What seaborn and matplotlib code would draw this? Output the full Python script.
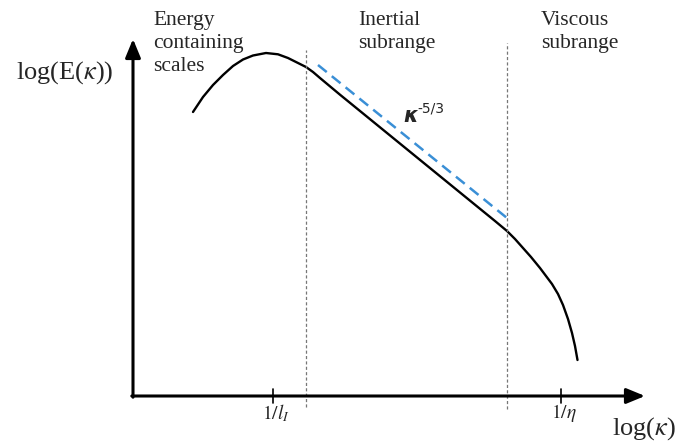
import numpy as np
import pandas as pd
import seaborn as sns
import matplotlib.pyplot as plt

# schematic energy spectrum (arbitrary log units)
log_k = [0.60, 0.70, 0.80, 0.90, 1.00, 1.10, 1.20, 1.33, 1.45, 1.55, 1.65,
         1.73, 1.80, 1.87, 2.07, 2.27, 2.47, 2.67, 2.87, 3.07, 3.27, 3.47,
         3.62, 3.74, 3.82, 3.90, 3.98, 4.07, 4.19, 4.25, 4.30, 4.35, 4.39,
         4.42, 4.445]
log_E = [2.84, 2.99, 3.11, 3.21, 3.30, 3.365, 3.405, 3.43, 3.417, 3.38, 3.33,
         3.29, 3.24, 3.18, 3.013, 2.85, 2.687, 2.524, 2.361, 2.198, 2.035, 1.872,
         1.75, 1.65, 1.57, 1.48, 1.39, 1.28, 1.12, 1.02, 0.91, 0.77, 0.63,
         0.50, 0.36]

slope_k = [1.85, 3.74]
slope_E = [3.31, 1.78]

bounds_k = [1.73, 3.74]
bounds_top = [3.46, 3.53]
bounds_bottom = [-0.11, -0.13]

tick_k = [1.40, 4.28]
tick_labels = [r'$\mathit{1/l}_{\mathit{I}}$', r'$\mathit{1/\eta}$']

region_labels = ['Energy\ncontaining\nscales', 'Inertial\nsubrange', 'Viscous\nsubrange']
region_k = [0.20, 2.25, 4.08]

sns.set_theme(style='white')
plt.rcParams['font.family'] = ['Liberation Serif', 'DejaVu Serif']
plt.rcParams['mathtext.fontset'] = 'stix'

fig = plt.figure(figsize=(6.78, 4.45), dpi=100)
ax = fig.add_axes([0, 0, 1, 1])
ax.set_xlim(-1.33, 5.45)
ax.set_ylim(-0.49, 3.96)
ax.set_axis_off()

spec = pd.DataFrame({'log_k': log_k, 'log_E': log_E})
sns.lineplot(data=spec, x='log_k', y='log_E', color='black', lw=1.7,
             sort=False, ax=ax, solid_joinstyle='round', solid_capstyle='round')
sns.lineplot(x=slope_k, y=slope_E, color='#3a8fd6', lw=1.8,
             linestyle=(0, (4.5, 2.6)), ax=ax)

for k, top, bot in zip(bounds_k, bounds_top, bounds_bottom):
    ax.plot([k, k], [bot, top], color='#777777', lw=0.9, linestyle=(0, (2.5, 1.8)))

# axes drawn as arrows
arrow = dict(arrowstyle='-|>,head_length=0.8,head_width=0.33', color='black',
             lw=2.2, mutation_scale=14, shrinkA=0, shrinkB=0)
ax.annotate('', xy=(5.12, 0), xytext=(-0.012, 0), arrowprops=arrow)
ax.annotate('', xy=(0, 3.57), xytext=(0, -0.012), arrowprops=arrow)

for k, lab in zip(tick_k, tick_labels):
    ax.plot([k, k], [-0.065, 0.07], color='black', lw=1.2)
    ax.text(k + 0.03, -0.17, lab, ha='center', va='center', fontsize=14)

ax.text(-0.68, 3.23, r'log(E($\kappa$))', ha='center', va='center', fontsize=19)
ax.text(5.11, -0.33, r'log($\kappa$)', ha='center', va='center', fontsize=19)

for k, lab in zip(region_k, region_labels):
    ax.text(k, 3.85, lab, ha='left', va='top', fontsize=15.5, linespacing=1.3)

ax.text(2.70, 2.74, 'κ', ha='left', va='baseline', fontsize=15,
        fontfamily='DejaVu Sans', fontweight='bold', fontstyle='italic')
ax.annotate('-5/3', xy=(2.70, 2.74), xytext=(10.5, 6.5), textcoords='offset points',
            ha='left', va='baseline', fontsize=10, fontfamily='DejaVu Sans')

fig.savefig('out.png', dpi=100)
